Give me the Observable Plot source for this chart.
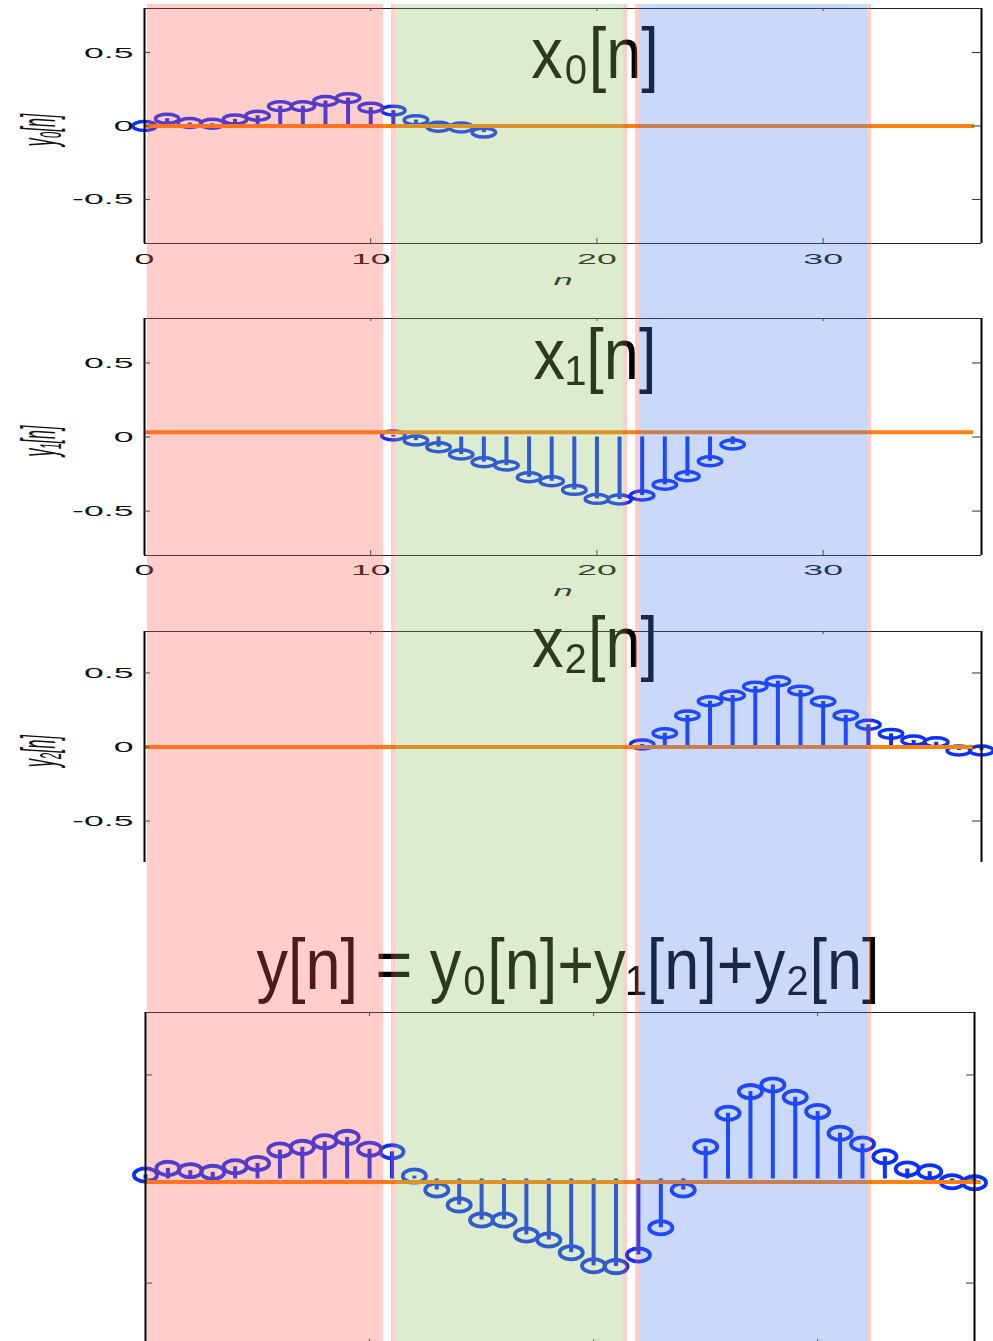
<!DOCTYPE html>
<html><head><meta charset="utf-8">
<script src="https://cdn.jsdelivr.net/npm/d3@7"></script>
<script src="https://cdn.jsdelivr.net/npm/@observablehq/plot@0.6"></script>
<style>
html,body{margin:0;padding:0;background:#fff;overflow:hidden;}
#root{position:relative;width:993px;height:1341px;overflow:hidden;background:#fff;}
#root > div{position:absolute;left:0;}
</style></head><body><div id="root"></div>
<script>
// ---------------- data ----------------
const n0 = [0,1,2,3,4,5,6,7,8,9,10,11,12,13,14,15];
const y0 = [0.00,0.05,0.02,0.015,0.045,0.07,0.135,0.135,0.17,0.19,0.125,0.105,0.04,-0.005,-0.01,-0.045];
const n1 = [11,12,13,14,15,16,17,18,19,20,21,22,23,24,25,26];
const y1 = [0.01,-0.024,-0.069,-0.118,-0.170,-0.193,-0.272,-0.299,-0.357,-0.418,-0.422,-0.395,-0.323,-0.265,-0.164,-0.051];
const n2 = [22,23,24,25,26,27,28,29,30,31,32,33,34,35,36,37];
const y2 = [0.017,0.093,0.213,0.309,0.348,0.408,0.444,0.381,0.307,0.213,0.150,0.089,0.044,0.032,-0.024,-0.024];
const nSum = [0,1,2,3,4,5,6,7,8,9,10,11,12,13,14,15,16,17,18,19,20,21,22,23,24,25,26,27,28,29,30,31,32,33,34,35,36,37];
const ySum = [0.019,0.051,0.040,0.032,0.059,0.075,0.139,0.152,0.179,0.200,0.143,0.131,0.014,-0.053,-0.125,-0.197,-0.197,-0.269,-0.293,-0.354,-0.417,-0.421,-0.365,-0.234,-0.053,0.155,0.316,0.420,0.452,0.393,0.324,0.220,0.168,0.107,0.048,0.035,-0.013,-0.018];

const yTicks = [-0.5, 0, 0.5];
const xTicks = [0, 10, 20, 30];
const titles = ["x₀[n]", "x₁[n]", "x₂[n]"];
const sumTitle = "y[n] = y₀[n]+y₁[n]+y₂[n]";
const yLabels = ["y₀[n]", "y₁[n]", "y₂[n]"];
const xLabel = "n";
const zeroLevel = [0, 0.032, 0, -0.015];
const zeroLineEnd = [36.7, 36.65, 36.65, 37.3];

const bandNames = ["red", "green", "blue"];
const bandStart = [0.13, 11.10, 21.88];
const bandEnd = [10.57, 21.18, 31.96];
const bandColors = ["#ff5a50", "#90c060", "#5080f0"];
const edgeStart = [10.92, 21.18, 21.71, 31.96];
const edgeEnd = [11.10, 21.35, 21.88, 32.14];

// ---------------- helpers ----------------
const STEM = "#0a30ff";
const ORANGE = "#ff7f0f";
const TICKFONT = "'Liberation Sans', Arial, sans-serif";
const TITLEFONT = "'Liberation Sans', Arial, sans-serif";

function ellipse(ratio) {
  return {
    draw(ctx, size) {
      const rx = Math.sqrt(size / Math.PI), ry = rx * ratio, k = 0.5523;
      ctx.moveTo(rx, 0);
      ctx.bezierCurveTo(rx, k*ry, k*rx, ry, 0, ry);
      ctx.bezierCurveTo(-k*rx, ry, -rx, k*ry, -rx, 0);
      ctx.bezierCurveTo(-rx, -k*ry, -k*rx, -ry, 0, -ry);
      ctx.bezierCurveTo(k*rx, -ry, rx, -k*ry, rx, 0);
      ctx.closePath();
    }
  };
}

function stretch(svg, tag, sx, sy) {
  svg.querySelectorAll(`g[aria-description="${tag}"] text, text[aria-label="${tag}"], g[aria-label="${tag}"] text`).forEach(t => {
    const tr = t.getAttribute("transform") || "";
    t.setAttribute("transform", (tr + ` scale(${sx},${sy})`).trim());
  });
}

const root = document.getElementById("root");
function place(node, top) {
  const d = document.createElement("div");
  d.style.top = top + "px";
  d.appendChild(node);
  root.appendChild(d);
}

function panel(cfg) {
  const W = 993;
  const plotW = W - cfg.ml - cfg.mr;
  const plotH = cfg.height - cfg.mt - cfg.mb;
  const data = cfg.ns.map((n, i) => ({n, v: cfg.vs[i]}));
  const marks = [
    Plot.ruleX(data, {x: "n", y1: 0, y2: "v", stroke: STEM, strokeWidth: 4}),
    Plot.dot(data, {x: "n", y: "v", symbol: ellipse(cfg.ratio), r: cfg.rx, stroke: STEM, strokeWidth: cfg.sw, fill: "none"}),
    Plot.ruleY([cfg.level], {x1: 0, x2: cfg.levelEnd, stroke: ORANGE, strokeWidth: 4}),
    Plot.ruleX([cfg.xDomain[0]], {stroke: "#000", strokeWidth: 2}),
    Plot.ruleX([cfg.xDomain[1]], {stroke: "#000", strokeWidth: 2}),
    Plot.ruleY([cfg.yDomain[1]], {stroke: "#222", strokeWidth: 1}),
    Plot.ruleY(yTicks, {stroke: "#333", insetRight: plotW - cfg.tl[0]}),
    Plot.ruleY(yTicks, {stroke: "#333", insetLeft: plotW - cfg.tl[1]}),
    Plot.ruleX(xTicks.slice(1), {stroke: "#333", insetBottom: plotH - cfg.tl[2]}),
  ];
  if (cfg.bottom) {
    marks.push(Plot.ruleY([cfg.yDomain[0]], {stroke: "#222", strokeWidth: 1}));
    marks.push(Plot.ruleX(xTicks.slice(1), {stroke: "#333", insetTop: plotH - cfg.tl[3]}));
  }
  if (cfg.yLabels) {
    marks.push(Plot.axisY({ticks: yTicks, tickSize: 0, tickPadding: 11, tickFormat: d => String(d), label: null, fontSize: 15.5, fontFamily: TICKFONT, fill: "#111"}));
    marks.push(Plot.text([cfg.ylabel], {text: d => d, frameAnchor: "left", textAnchor: "middle", dx: -105, dy: 4, rotate: -90, fontSize: 16, fontStyle: "italic", fontFamily: TICKFONT, fill: "#111", ariaLabel: () => "ylabel", ariaDescription: "ylabel"}));
  }
  if (cfg.xLabels) {
    marks.push(Plot.axisX({ticks: xTicks, tickSize: 0, tickPadding: cfg.xpad, tickFormat: d => String(d), label: null, fontSize: 15.5, fontFamily: TICKFONT, fill: "#111"}));
    marks.push(Plot.text([xLabel], {text: d => d, frameAnchor: "bottom", dy: cfg.xlabDy, fontSize: 15, fontStyle: "italic", fontFamily: TICKFONT, fill: "#111", ariaLabel: () => "xlabel", ariaDescription: "xlabel"}));
  }
  if (cfg.title) {
    marks.push(Plot.text([cfg.title], {text: d => d, frameAnchor: "top", dx: cfg.tdx, dy: cfg.tdy, lineAnchor: "middle", fontSize: 72, fontFamily: TITLEFONT, fill: "#000", ariaLabel: () => "title", ariaDescription: "title"}));
  }
  const svg = Plot.plot({
    width: W, height: cfg.height,
    marginTop: cfg.mt, marginBottom: cfg.mb, marginLeft: cfg.ml, marginRight: cfg.mr,
    x: {domain: cfg.xDomain, axis: null},
    y: {domain: cfg.yDomain, axis: null},
    style: {background: "transparent", overflow: "visible", fontFamily: TICKFONT},
    marks
  });
  stretch(svg, "y-axis tick label", 2.3, 1);
  stretch(svg, "x-axis tick label", 2.3, 1);
  stretch(svg, "xlabel", 2.3, 1);
  stretch(svg, "ylabel", 1, 3.0);
  stretch(svg, "title", 0.875, 1);
  place(svg, cfg.top);
}

const common = {ml: 144, mr: 12, xDomain: [0, 37], ratio: 0.38, rx: 11.7, sw: 3.5};

panel({...common, top: 0, height: 300, mt: 8, mb: 57, yDomain: [-0.8, 0.8],
  ns: n0, vs: y0, level: zeroLevel[0], levelEnd: zeroLineEnd[0],
  tl: [6, 9, 3, 5], bottom: true, yLabels: true, xLabels: true, xpad: 9, xlabDy: 41,
  ylabel: yLabels[0], title: titles[0], tdx: 32, tdy: 46});

panel({...common, top: 300, height: 300, mt: 18, mb: 45, yDomain: [-0.8, 0.8],
  ns: n1, vs: y1, level: zeroLevel[1], levelEnd: zeroLineEnd[1],
  tl: [6, 9, 3, 5], bottom: true, yLabels: true, xLabels: true, xpad: 8, xlabDy: 40,
  ylabel: yLabels[1], title: titles[1], tdx: 32, tdy: 37});

panel({...common, top: 600, height: 262, mt: 31, mb: 0, yDomain: [-0.78, 0.78],
  ns: n2, vs: y2, level: zeroLevel[2], levelEnd: zeroLineEnd[2],
  tl: [6, 9, 3, 5], bottom: false, yLabels: true, xLabels: false,
  ylabel: yLabels[2], title: titles[2], tdx: 32, tdy: 12});

panel({top: 862, height: 483, mt: 150, mb: 0, ml: 145, mr: 19, xDomain: [0, 37], yDomain: [-0.8, 0.8],
  ratio: 0.57, rx: 11.6, sw: 3.8,
  ns: nSum, vs: ySum, level: zeroLevel[3], levelEnd: zeroLineEnd[3],
  tl: [7, 8, 4, 6], bottom: true, yLabels: false, xLabels: false,
  title: sumTitle, tdx: 8, tdy: -47});

// ---------------- translucent bands on top of everything ----------------
const bands = bandNames.map((name, i) => ({name, x1: bandStart[i], x2: bandEnd[i], color: bandColors[i]}));
const edges = edgeStart.map((s, i) => ({x1: s, x2: edgeEnd[i], color: bandColors[0]}));
const overlay = Plot.plot({
  width: 993, height: 1341,
  marginTop: 4, marginBottom: 0, marginLeft: 144, marginRight: 12,
  x: {domain: [0, 37], axis: null},
  color: {type: "identity"},
  style: {background: "transparent", pointerEvents: "none"},
  marks: [
    Plot.rect(bands, {x1: "x1", x2: "x2", fill: "color", fillOpacity: 0.3}),
    Plot.rect(edges, {x1: "x1", x2: "x2", fill: "color", fillOpacity: 0.3})
  ]
});
place(overlay, 0);
</script>
</body></html>
